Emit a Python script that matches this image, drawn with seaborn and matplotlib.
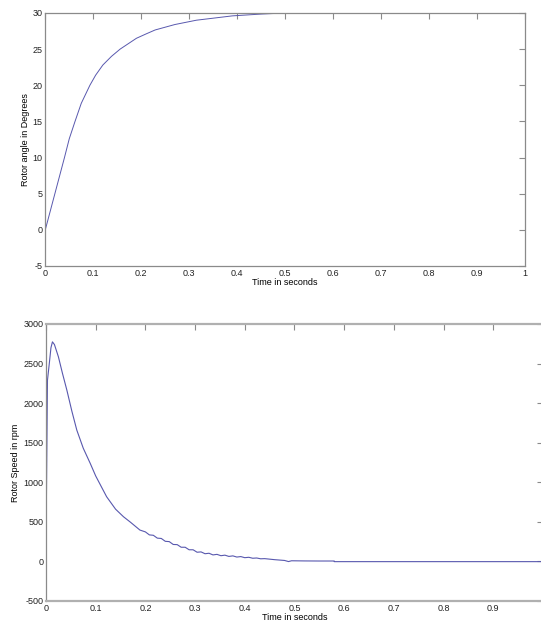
import matplotlib
matplotlib.use("Agg")
import matplotlib.pyplot as plt
import seaborn as sns
import numpy as np

# ---- data ----
angle_t = [0, 0.02, 0.04, 0.05, 0.062, 0.075, 0.093, 0.105, 0.12, 0.138, 0.156, 0.19,
           0.21, 0.229, 0.27, 0.315, 0.39, 0.45, 0.5, 0.6]
angle_v = [0, 5, 10, 12.6, 15, 17.5, 20, 21.4, 22.8, 24.0, 25, 26.5,
           27.1, 27.65, 28.4, 29.0, 29.6, 29.85, 30, 30]

speed_t = [0, 0.0015, 0.003, 0.007, 0.010, 0.013, 0.017, 0.025, 0.033, 0.042,
           0.052, 0.062, 0.075, 0.089, 0.1, 0.122, 0.14, 0.156, 0.17, 0.189,
           0.200, 0.208, 0.216, 0.224, 0.232, 0.240, 0.248, 0.256, 0.264, 0.272,
           0.280, 0.288, 0.296, 0.304, 0.312, 0.320, 0.328, 0.336, 0.344, 0.352,
           0.360, 0.368, 0.376, 0.384, 0.392, 0.400, 0.408, 0.416, 0.424, 0.432,
           0.440, 0.46, 0.48, 0.488, 0.494, 0.52, 0.55, 0.58, 0.5801, 1.0]
speed_v = [150, 1250, 2290, 2520, 2700, 2774, 2740, 2585, 2380, 2164,
           1900, 1659, 1430, 1239, 1080, 817, 660, 564, 495, 396,
           373, 335, 330, 294, 290, 254, 250, 214, 212, 179,
           179, 147, 147, 116, 120, 97, 103, 82, 89, 72,
           79, 63, 70, 55, 61, 47, 52, 40, 43, 33,
           35, 22, 12, -2, 8, 6, 5, 5, -3, -3]

x_ticks = [0, 0.1, 0.2, 0.3, 0.4, 0.5, 0.6, 0.7, 0.8, 0.9, 1]
x_labels_top = ["0", "0.1", "0.2", "0.3", "0.4", "0.5", "0.6", "0.7", "0.8", "0.9", "1"]
x_labels_bottom = ["0", "0.1", "0.2", "0.3", "0.4", "0.5", "0.6", "0.7", "0.8", "0.9", ""]
angle_ticks = [-5, 0, 5, 10, 15, 20, 25, 30]
speed_ticks = [-500, 0, 500, 1000, 1500, 2000, 2500, 3000]

sns.set_style("white")
plt.rcParams['font.family'] = ['Liberation Sans', 'DejaVu Sans']

line_color = "#5858ae"
spine_color = "#8a8a8a"
text_color = "#222222"

fig = plt.figure(figsize=(5.41, 6.27), dpi=100)
ax1 = fig.add_axes([0.0837, 0.5758, 0.8867, 0.4035])
ax2 = fig.add_axes([0.0850, 0.0415, 0.9187, 0.4418])

sns.lineplot(x=angle_t, y=angle_v, ax=ax1, color=line_color, linewidth=0.7,
             estimator=None, sort=False)
sns.lineplot(x=speed_t, y=speed_v, ax=ax2, color=line_color, linewidth=0.8,
             estimator=None, sort=False)

for ax, yt, ylim, ylab, xl in [(ax1, angle_ticks, (-5, 30), "Rotor angle in Degrees", x_labels_top),
                               (ax2, speed_ticks, (-500, 3000), "Rotor Speed in rpm", x_labels_bottom)]:
    ax.set_xlim(0, 1)
    ax.set_ylim(*ylim)
    ax.set_xticks(x_ticks)
    ax.set_xticklabels(xl)
    ax.set_yticks(yt)
    ax.set_yticklabels([str(v) for v in yt])
    ax.tick_params(direction="in", length=4, width=0.8, colors=spine_color,
                   labelcolor=text_color, labelsize=6.5, top=True, right=True,
                   pad=2)
    for s in ax.spines.values():
        s.set_visible(True)
        s.set_color(spine_color)
        s.set_linewidth(0.9)
    ax.set_xlabel("Time in seconds", fontsize=6.5, color="black", labelpad=0)
    ax.set_ylabel(ylab, fontsize=6.5, color="black", labelpad=2)
    ax.grid(False)

ax2.spines['top'].set_linewidth(1.6)
ax2.spines['top'].set_color("#b0b0b0")
ax2.spines['bottom'].set_linewidth(1.6)
ax2.spines['bottom'].set_color("#b0b0b0")

fig.savefig("out.png", dpi=100)
